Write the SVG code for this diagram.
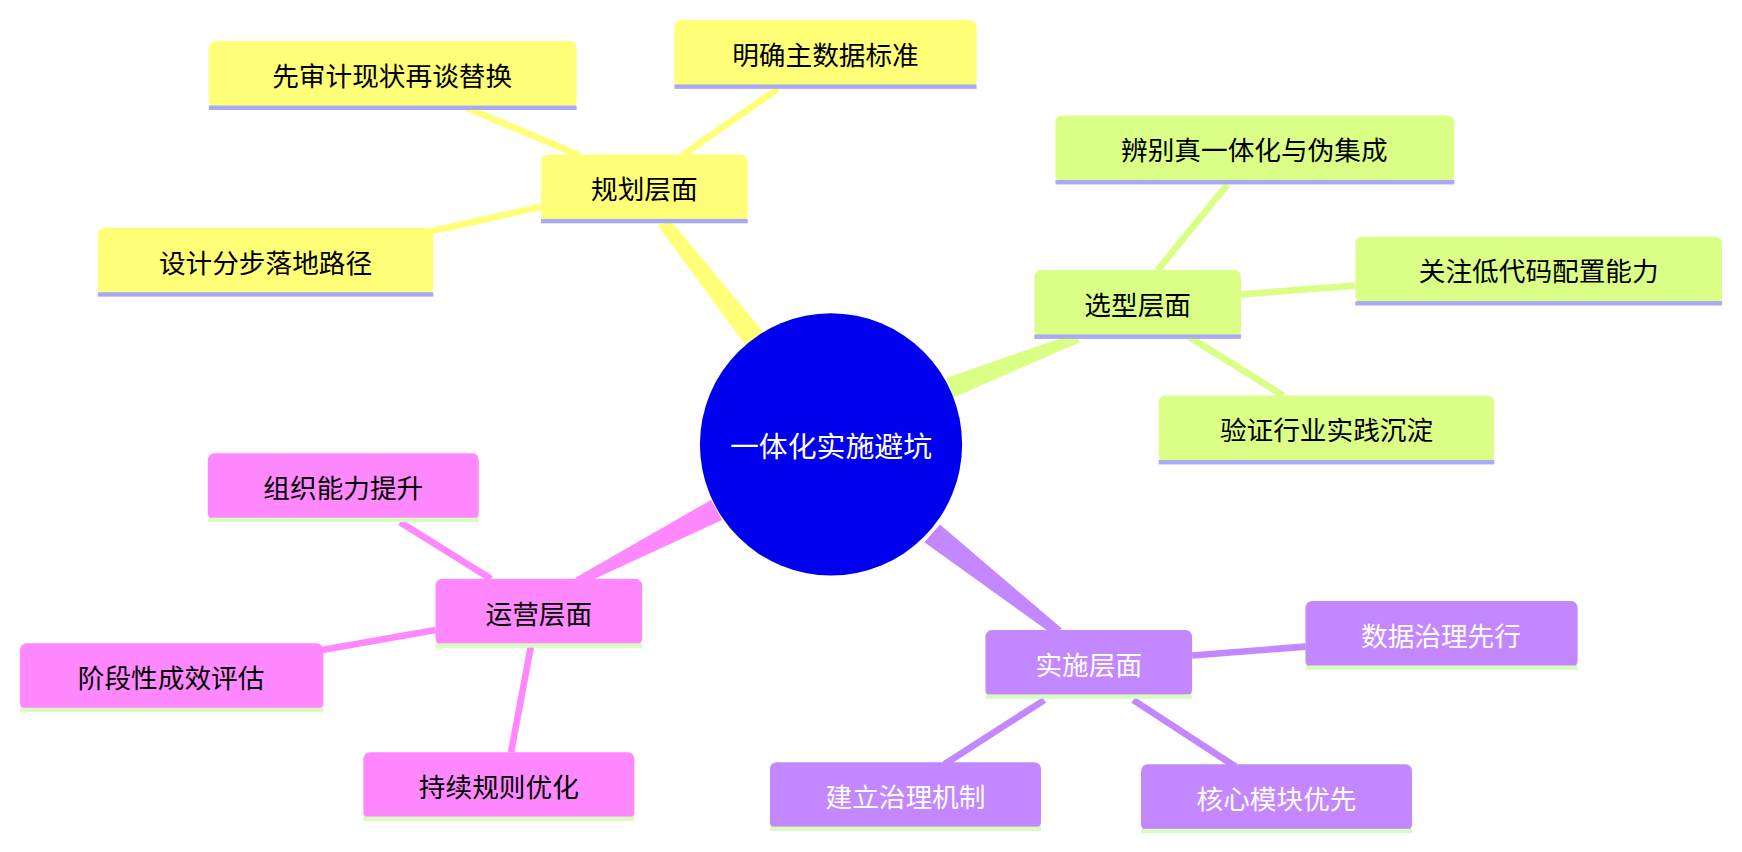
<svg xmlns="http://www.w3.org/2000/svg" width="1742" height="852" viewBox="0 0 1742 852">
<style>
text{font-family:"Noto Sans CJK SC","Noto Sans",sans-serif;font-size:24px;text-anchor:middle;dominant-baseline:central}
.w{fill:#fff}.k{fill:#000}
.y{fill:#ffff78}.g{fill:#dbff86}.p{fill:#c388ff}.m{fill:#ff88ff}
.ul1{fill:#a9a9f5}.ul2{fill:#d9fcc0}
</style>
<rect width="1742" height="852" fill="#fff"/>
<g transform="scale(1.1110)">
<g id="connectors">
<polygon points="672,312 688,300 604,199 592,203" fill="#ffff78"/>
<polygon points="852,340 858,358 972,308 968,300" fill="#dbff86"/>
<polygon points="832,488 846,472 956,566 946,570" fill="#c388ff"/>
<polygon points="640,450 650,468 524,526 518,520" fill="#ff88ff"/>
<g stroke-width="6" fill="none">
<path d="M522,140 L420,97 M614,140 L700,80 M487,186 L380,210" stroke="#ffff78"/>
<path d="M1042,243 L1105,166 M1117,265 L1220,257 M1070,303 L1155,356" stroke="#dbff86"/>
<path d="M1073,590 L1175,582 M940,630 L850,688 M1020,630 L1112,690" stroke="#c388ff"/>
<path d="M442,521 L360,470 M392,567 L290,585 M478,581 L460,677" stroke="#ff88ff"/>
</g>
</g>
<g id="center"><circle cx="748" cy="400" r="118" fill="#0000ee"/><text class="w" x="748" y="400" style="font-size:26px">一体化实施避坑</text></g>
<g id="n1"><rect class="y" x="487" y="139" width="186" height="60" rx="6"/><rect class="ul1" x="487" y="197" width="186" height="4"/><text class="k" x="580" y="169">规划层面</text></g>
<g id="n1a"><rect class="y" x="188" y="37" width="331" height="60" rx="6"/><rect class="ul1" x="188" y="95" width="331" height="4"/><text class="k" x="353" y="67">先审计现状再谈替换</text></g>
<g id="n1b"><rect class="y" x="607" y="18" width="272" height="60" rx="6"/><rect class="ul1" x="607" y="76" width="272" height="4"/><text class="k" x="743" y="48">明确主数据标准</text></g>
<g id="n1c"><rect class="y" x="88" y="205" width="302" height="60" rx="6"/><rect class="ul1" x="88" y="263" width="302" height="4"/><text class="k" x="239" y="235">设计分步落地路径</text></g>
<g id="n2"><rect class="g" x="931" y="243" width="186" height="60" rx="6"/><rect class="ul1" x="931" y="301" width="186" height="4"/><text class="k" x="1024" y="273">选型层面</text></g>
<g id="n2a"><rect class="g" x="950" y="104" width="359" height="60" rx="6"/><rect class="ul1" x="950" y="162" width="359" height="4"/><text class="k" x="1129" y="134">辨别真一体化与伪集成</text></g>
<g id="n2b"><rect class="g" x="1220" y="213" width="330" height="60" rx="6"/><rect class="ul1" x="1220" y="271" width="330" height="4"/><text class="k" x="1385" y="243">关注低代码配置能力</text></g>
<g id="n2c"><rect class="g" x="1043" y="356" width="302" height="60" rx="6"/><rect class="ul1" x="1043" y="414" width="302" height="4"/><text class="k" x="1194" y="386">验证行业实践沉淀</text></g>
<g id="n3"><rect class="p" x="887" y="567" width="186" height="60" rx="6"/><rect class="ul2" x="887" y="625" width="186" height="4"/><text class="w" x="980" y="597">实施层面</text></g>
<g id="n3a"><rect class="p" x="1175" y="541" width="245" height="60" rx="6"/><rect class="ul2" x="1175" y="599" width="245" height="4"/><text class="w" x="1297" y="571">数据治理先行</text></g>
<g id="n3b"><rect class="p" x="693" y="686" width="244" height="60" rx="6"/><rect class="ul2" x="693" y="744" width="244" height="4"/><text class="w" x="815" y="716">建立治理机制</text></g>
<g id="n3c"><rect class="p" x="1027" y="688" width="244" height="60" rx="6"/><rect class="ul2" x="1027" y="746" width="244" height="4"/><text class="w" x="1149" y="718">核心模块优先</text></g>
<g id="n4"><rect class="m" x="392" y="521" width="186" height="60" rx="6"/><rect class="ul2" x="392" y="579" width="186" height="4"/><text class="k" x="485" y="551">运营层面</text></g>
<g id="n4a"><rect class="m" x="187" y="408" width="244" height="60" rx="6"/><rect class="ul2" x="187" y="466" width="244" height="4"/><text class="k" x="309" y="438">组织能力提升</text></g>
<g id="n4b"><rect class="m" x="18" y="579" width="273" height="60" rx="6"/><rect class="ul2" x="18" y="637" width="273" height="4"/><text class="k" x="154" y="609">阶段性成效评估</text></g>
<g id="n4c"><rect class="m" x="327" y="677" width="244" height="60" rx="6"/><rect class="ul2" x="327" y="735" width="244" height="4"/><text class="k" x="449" y="707">持续规则优化</text></g>
</g>
</svg>
